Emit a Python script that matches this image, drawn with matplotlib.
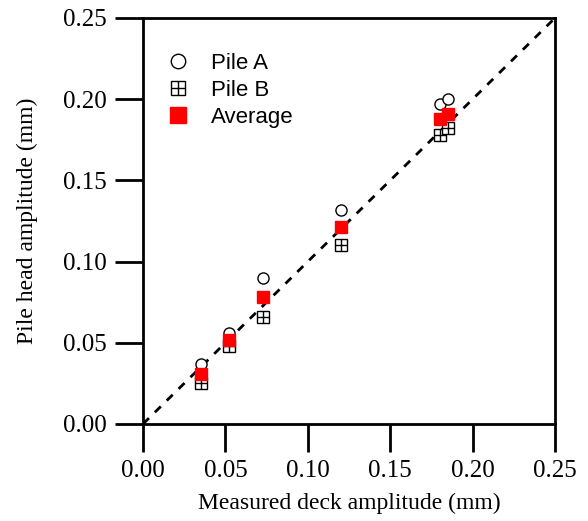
import matplotlib.pyplot as plt

# Measured deck amplitude (mm)
deck = [0.035, 0.052, 0.073, 0.120, 0.180, 0.185]
# Pile head amplitudes (mm)
pile_a = [0.037, 0.056, 0.090, 0.132, 0.197, 0.200]
pile_b = [0.025, 0.048, 0.066, 0.110, 0.178, 0.182]
average = [0.031, 0.052, 0.078, 0.121, 0.188, 0.191]

ticks = [0.00, 0.05, 0.10, 0.15, 0.20, 0.25]
line_1to1 = [0.0, 0.25]

fig = plt.figure(figsize=(5.88, 5.21), dpi=100)
ax = fig.add_axes([0.2432, 0.1862, 0.7007, 0.7793])

# 1:1 line
ax.plot(line_1to1, line_1to1, color='black', ls=(0, (3, 3)), lw=2, zorder=1)

# Pile A - open circles
ha = ax.plot(deck, pile_a, 'o', ms=8, mfc='white', mec='black', mew=1, zorder=3)[0]
# Pile B - open squares with a cross
hb1 = ax.plot(deck, pile_b, 's', ms=8, mfc='white', mec='black', mew=1, zorder=3)[0]
hb2 = ax.plot(deck, pile_b, '+', ms=8, mec='black', mew=1, zorder=4)[0]
# Average - red filled squares
hav = ax.plot(deck, average, 's', ms=8.5, color='red', mec='red', zorder=5)[0]

ax.set_xlim(0, 0.25)
ax.set_ylim(0, 0.25)
ax.set_xticks(ticks)
ax.set_yticks(ticks)
ax.set_xticklabels(['%.2f' % t for t in ticks], family='Liberation Serif', fontsize=18)
ax.set_yticklabels(['%.2f' % t for t in ticks], family='Liberation Serif', fontsize=18)
ax.tick_params(direction='out', length=20, width=2, pad=6)
for s in ax.spines.values():
    s.set_linewidth(2)

ax.set_xlabel('Measured deck amplitude (mm)', family='Liberation Serif', fontsize=17, labelpad=8)
ax.set_ylabel('Pile head amplitude (mm)', family='Liberation Serif', fontsize=17, labelpad=18)

leg = ax.legend([ha, (hb1, hb2), hav], ['Pile A', 'Pile B', 'Average'],
                loc='upper left', bbox_to_anchor=(0.058, 0.914), frameon=False,
                borderpad=0, borderaxespad=0, markerscale=1.3,
                prop={'family': 'Liberation Sans', 'size': 16},
                handletextpad=1.0, labelspacing=0.27, handlelength=1.0)

fig.savefig('out.png', dpi=100)
